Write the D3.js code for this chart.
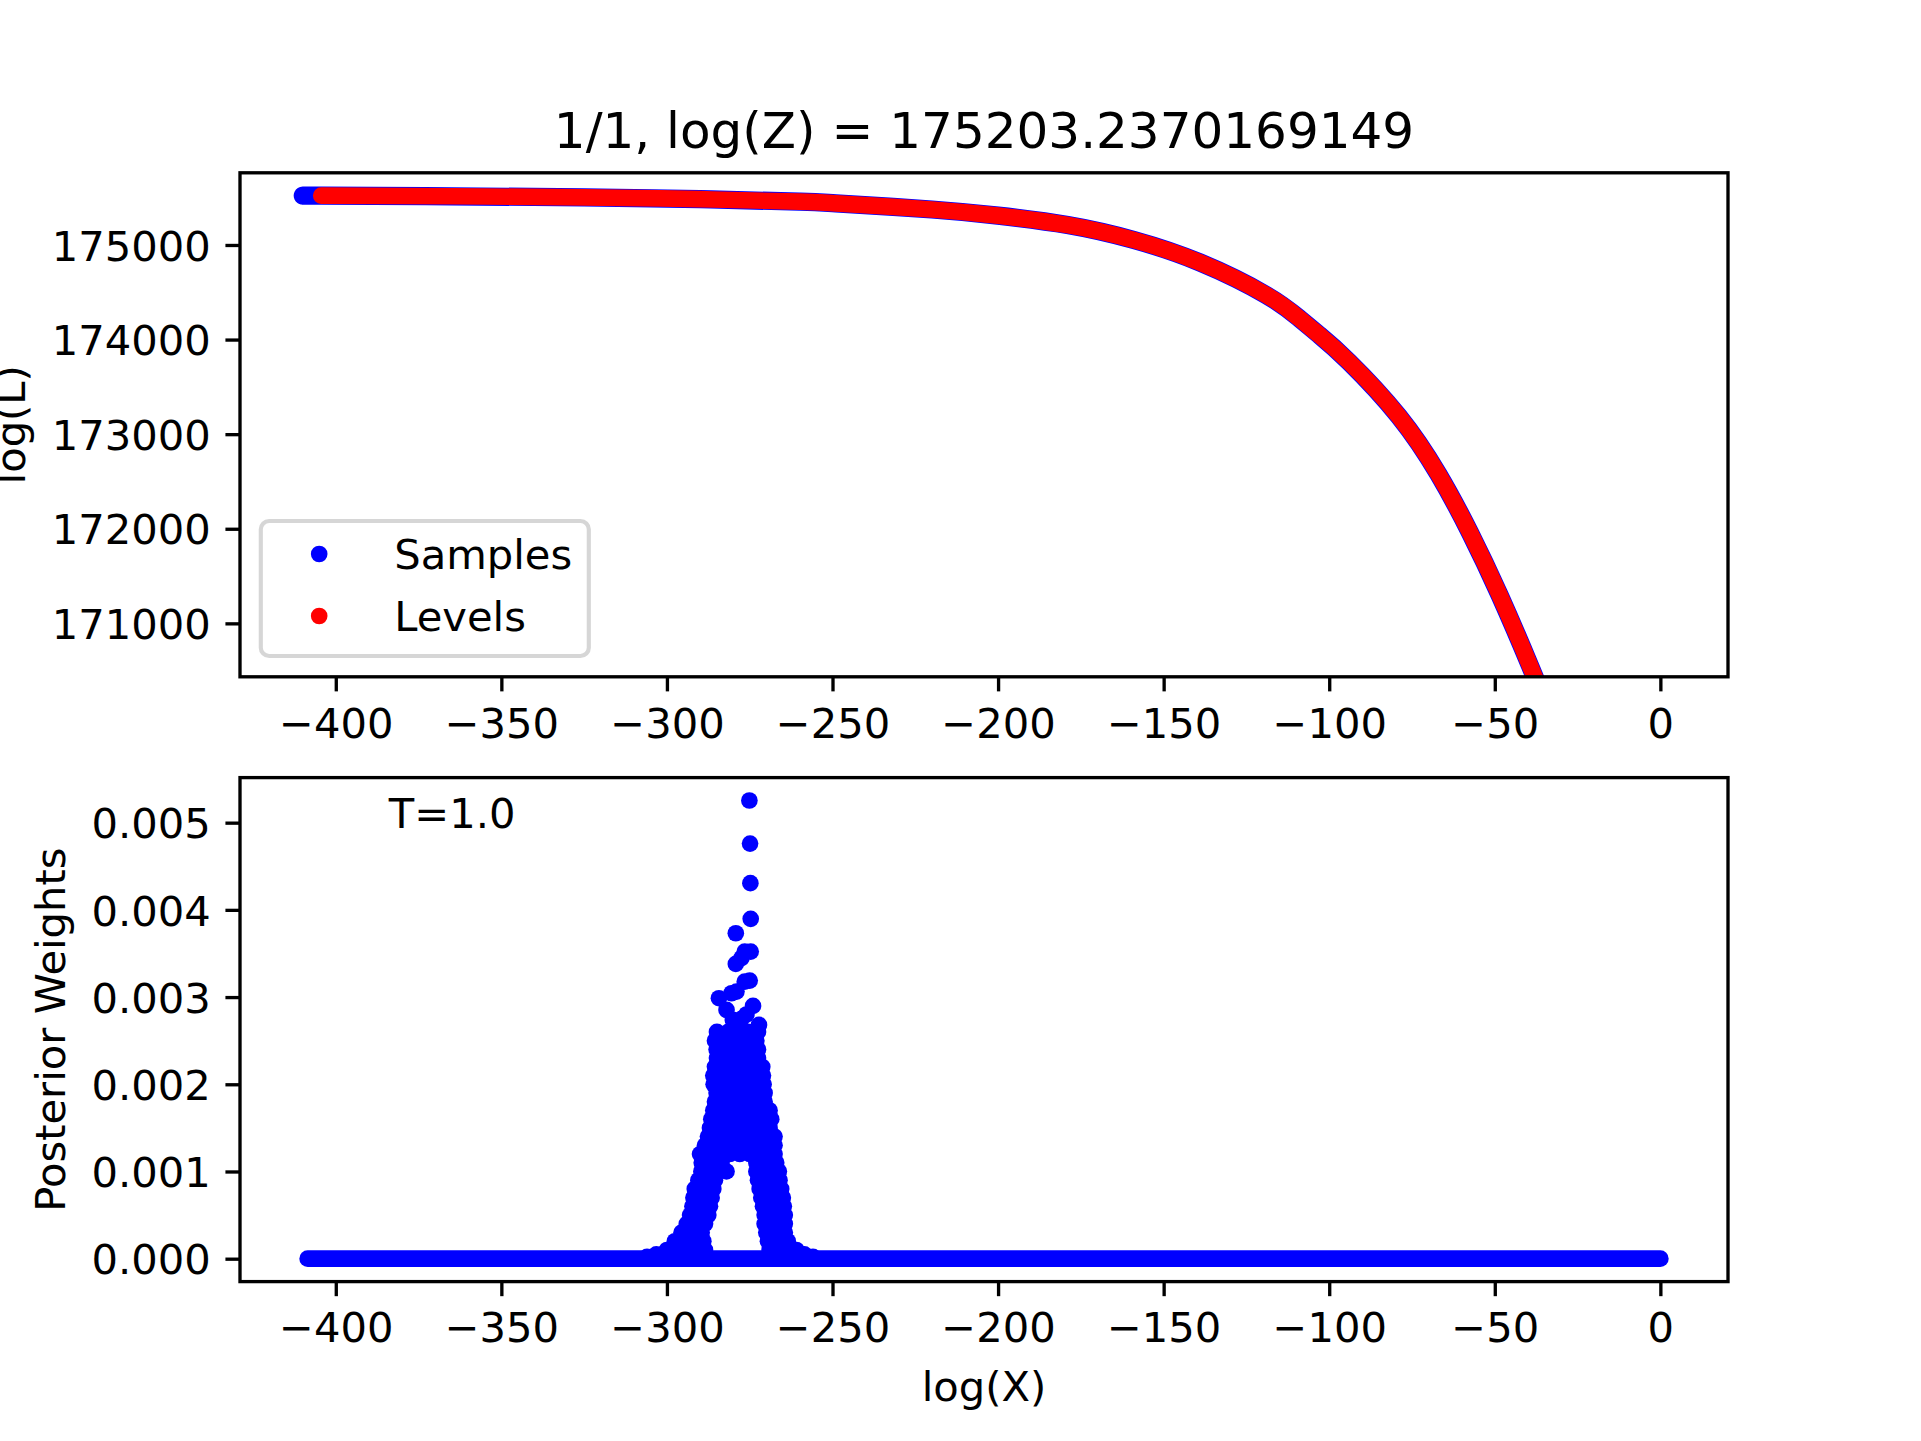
<!DOCTYPE html>
<html>
<head>
<meta charset="utf-8">
<script src="https://cdn.jsdelivr.net/npm/d3@7"></script>
<style>
  body { margin: 0; background: #fff; }
  text { font-family: "DejaVu Sans", sans-serif; fill: #000; }
</style>
</head>
<body>
<div id="chart"></div>
<script>
// Data
const titleText = '1/1, log(Z) = 175203.2370169149';

// top panel: levels (red) and samples (blue), log(X) vs log(L)
const levelLogX = [-404.4, -365, -325, -290, -260, -249, -220, -200, -179, -159, -139, -119, -109, -103, -94, -79, -67, -57.5, -48.5, -39.4, -33];
const levelLogL = [175522, 175515, 175503, 175484, 175458, 175440, 175375, 175310, 175211, 175053, 174815, 174471, 174223, 174048, 173764, 173190, 172575, 171960, 171295, 170555, 170000];
const sampleLogX = [-408.4, -404.4, -365, -325, -290, -260, -249, -220, -200, -179, -159, -139, -119, -109, -103, -94, -79, -67, -57.5, -48.5, -39.4, -33];
const sampleLogL = [175521, 175522, 175515, 175503, 175484, 175458, 175440, 175375, 175310, 175211, 175053, 174815, 174471, 174223, 174048, 173764, 173190, 172575, 171960, 171295, 170555, 170000];
const topYLim = [170435, 175763];
const topYTicks = [171000, 172000, 173000, 174000, 175000];

// bottom panel: posterior weights (x 1e-3)
const baseLogX = [-408.5, 0];
const baseW = [0, 0];
const peakTopLogX = [-275.1, -274.9, -274.8, -274.7, -279.2, -274.7, -276.5, -277.5, -279.2, -275.0, -276.5, -279.0, -280.5, -284.3, -274.0, -282.0, -280.1, -272.2, -277.5, -276.0];
const peakTopW = [5.254, 4.760, 4.306, 3.897, 3.732, 3.522, 3.522, 3.446, 3.380, 3.189, 3.177, 3.063, 3.044, 2.987, 2.899, 2.853, 2.738, 2.681, 2.75, 2.80];
const rowW = [2.6, 2.5, 2.4, 2.3, 2.2, 2.1, 2.0, 1.9, 1.8, 1.7, 1.6, 1.5, 1.4, 1.3, 1.2, 1.1, 1.0, 0.9, 0.8, 0.7, 0.6, 0.5, 0.4, 0.3, 0.2, 0.1, 0.05, 0.02];
const rowLogX = [
    [-284.9, -281.5, -278.5, -275.5, -272.5],
    [-285.5, -282, -279, -276, -273],
    [-285, -282, -279, -276, -272.5],
    [-284.9, -282, -279, -276, -272.5],
    [-285.5, -282.5, -279.5, -276.5, -273.5, -271.2],
    [-286, -283, -280, -277, -274, -271],
    [-285.9, -283, -280, -277, -274, -270.8],
    [-285, -282, -279, -276, -273, -270.5],
    [-285.5, -282.5, -279.5, -276.5, -273.5, -270.5],
    [-286, -283, -280, -277, -274, -271, -269],
    [-286.6, -283.5, -280.5, -277.5, -274.5, -271.5, -268.5],
    [-287, -284, -281, -278, -275, -272, -269],
    [-287.6, -284.5, -281.5, -278.5, -275.5, -272.5, -269.5, -267.5],
    [-288.5, -285.5, -282.5, -279.5, -276.5, -273.5, -270.5, -267.5],
    [-290, -287, -284, -281, -278, -275, -272, -269, -267.5],
    [-289.5, -286.5, -283.5, -273, -270, -267],
    [-289.6, -286.6, -282, -273, -270, -267, -266.2],
    [-290.5, -287.5, -285.5, -272.5, -269.5, -266],
    [-291.6, -288.5, -286, -272, -269, -265.5],
    [-292, -289, -286.5, -271.5, -268.5, -265],
    [-292.3, -289.3, -287, -271, -268, -264.7],
    [-293, -290, -287.5, -270.5, -267.5, -264.4],
    [-294, -291, -288.5, -270.5, -267.5, -264.4],
    [-295.6, -292.5, -289.5, -270, -267, -264.4],
    [-297.6, -294.5, -291.5, -289, -269.5, -266.5, -263.5],
    [-300, -297, -294, -291, -288.5, -269, -266, -263, -260.9],
    [-303.2, -258.5],
    [-306, -255.9]
];
const bottomYTicks = [0, 0.001, 0.002, 0.003, 0.004, 0.005];
const xTicks = [-400, -350, -300, -250, -200, -150, -100, -50, 0];
const legendLabels = ['Samples', 'Levels'];
const legendColors = ['#0000ff', '#ff0000'];

// Dimensions (matplotlib 6.4x4.8in @ 300dpi)
const dims = { width: 1921, height: 1441 };
const ax1 = { left: 240, top: 172.8, width: 1488, height: 504 };
const ax2 = { left: 240, top: 777.6, width: 1488, height: 504 };
const fs = 41.67;
const lw = 3.33;
const tickLen = 14.58;
const r = 8.33;

const svg = d3.select('#chart').append('svg')
    .attr('width', dims.width)
    .attr('height', dims.height)
    .style('background', '#fff');

svg.append('defs').append('clipPath').attr('id', 'clip')
    .append('rect').attr('width', ax1.width).attr('height', ax1.height);

// Scales
const xMin = d3.min(baseLogX), xMax = d3.max(baseLogX);
const xPad = 0.05 * (xMax - xMin);
const xScale = d3.scaleLinear().domain([xMin - xPad, xMax + xPad]).range([0, ax1.width]);

const y1 = d3.scaleLinear().domain(topYLim).range([ax1.height, 0]);

const wMax = d3.max(peakTopW) / 1000;
const y2 = d3.scaleLinear().domain([-0.05 * wMax, 1.05 * wMax]).range([ax2.height, 0]);

function styleAxis(g) {
    g.select('.domain').remove();
    g.selectAll('.tick line').attr('stroke', '#000').attr('stroke-width', lw);
    g.selectAll('.tick text').style('font-size', fs + 'px').attr('fill', '#000');
}

function drawXAxis(g, h) {
    const axis = d3.axisBottom(xScale).tickValues(xTicks).tickSize(tickLen).tickFormat(d3.format('d'));
    g.append('g').attr('transform', `translate(0, ${h})`).call(axis).call(styleAxis)
        .selectAll('.tick text').attr('y', 60.9).attr('dy', null);
}

// ---- Top panel
const topPanel = svg.append('g').attr('transform', `translate(${ax1.left}, ${ax1.top})`);
const topData = topPanel.append('g').attr('clip-path', 'url(#clip)');

const lineTop = d3.line()
    .x(d => xScale(d[0]))
    .y(d => y1(d[1]))
    .curve(d3.curveNatural);

topData.append('path')
    .datum(sampleLogX.map((x, i) => [x, sampleLogL[i]]))
    .attr('d', lineTop)
    .attr('fill', 'none')
    .attr('stroke', '#0000ff')
    .attr('stroke-width', 2 * r + 1.6)
    .attr('stroke-linecap', 'round')
    .attr('stroke-linejoin', 'round');

topData.append('path')
    .datum(levelLogX.map((x, i) => [x, levelLogL[i]]))
    .attr('d', lineTop)
    .attr('fill', 'none')
    .attr('stroke', '#ff0000')
    .attr('stroke-width', 2 * r)
    .attr('stroke-linecap', 'round')
    .attr('stroke-linejoin', 'round');

drawXAxis(topPanel, ax1.height);
topPanel.append('g')
    .call(d3.axisLeft(y1).tickValues(topYTicks).tickSize(tickLen).tickPadding(tickLen).tickFormat(d3.format('d')))
    .call(styleAxis)
    .selectAll('.tick text').attr('dy', '0.364em');

topPanel.append('rect')
    .attr('width', ax1.width).attr('height', ax1.height)
    .attr('fill', 'none').attr('stroke', '#000').attr('stroke-width', lw);

svg.append('text')
    .attr('x', 25.2).attr('y', ax1.top + ax1.height / 2)
    .attr('transform', `rotate(-90, 25.2, ${ax1.top + ax1.height / 2})`)
    .attr('text-anchor', 'middle')
    .style('font-size', fs + 'px')
    .text('log(L)');

// legend
const legend = svg.append('g');
legend.append('rect')
    .attr('x', 260.8).attr('y', 521).attr('width', 328).attr('height', 135)
    .attr('rx', 8.3)
    .attr('fill', '#fff').attr('fill-opacity', 0.8)
    .attr('stroke', '#cccccc').attr('stroke-opacity', 0.8).attr('stroke-width', 4.17);
legendLabels.forEach((label, i) => {
    legend.append('circle')
        .attr('cx', 319.2).attr('cy', 554 + i * 62).attr('r', r)
        .attr('fill', legendColors[i]);
    legend.append('text')
        .attr('x', 394.2).attr('y', 568.5 + i * 62)
        .style('font-size', fs + 'px')
        .text(label);
});

svg.append('text')
    .attr('x', ax1.left + ax1.width / 2).attr('y', 147.8)
    .attr('text-anchor', 'middle')
    .style('font-size', '50px')
    .text(titleText);

// ---- Bottom panel
const botPanel = svg.append('g').attr('transform', `translate(${ax2.left}, ${ax2.top})`);

const lineBot = d3.line().x(d => xScale(d[0])).y(d => y2(d[1]));
botPanel.append('path')
    .datum(baseLogX.map((x, i) => [x, baseW[i]]))
    .attr('d', lineBot)
    .attr('fill', 'none')
    .attr('stroke', '#0000ff')
    .attr('stroke-width', 2 * r)
    .attr('stroke-linecap', 'round');

const peakPoints = [];
rowW.forEach((w, i) => rowLogX[i].forEach(x => peakPoints.push([x, w / 1000])));
peakTopLogX.forEach((x, i) => peakPoints.push([x, peakTopW[i] / 1000]));

botPanel.selectAll('circle.sample')
    .data(peakPoints)
    .join('circle')
    .attr('class', 'sample')
    .attr('cx', d => xScale(d[0]))
    .attr('cy', d => y2(d[1]))
    .attr('r', r)
    .attr('fill', '#0000ff');

drawXAxis(botPanel, ax2.height);
botPanel.append('g')
    .call(d3.axisLeft(y2).tickValues(bottomYTicks).tickSize(tickLen).tickPadding(tickLen).tickFormat(d3.format('.3f')))
    .call(styleAxis)
    .selectAll('.tick text').attr('dy', '0.364em');

botPanel.append('rect')
    .attr('width', ax2.width).attr('height', ax2.height)
    .attr('fill', 'none').attr('stroke', '#000').attr('stroke-width', lw);

botPanel.append('text')
    .attr('x', 0.1 * ax2.width).attr('y', 0.1 * ax2.height + 0.5)
    .style('font-size', fs + 'px')
    .text('T=1.0');

svg.append('text')
    .attr('x', 65).attr('y', ax2.top + ax2.height / 2)
    .attr('transform', `rotate(-90, 65, ${ax2.top + ax2.height / 2})`)
    .attr('text-anchor', 'middle')
    .style('font-size', fs + 'px')
    .text('Posterior Weights');

svg.append('text')
    .attr('x', ax2.left + ax2.width / 2).attr('y', 1400.7)
    .attr('text-anchor', 'middle')
    .style('font-size', fs + 'px')
    .text('log(X)');
</script>
</body>
</html>
